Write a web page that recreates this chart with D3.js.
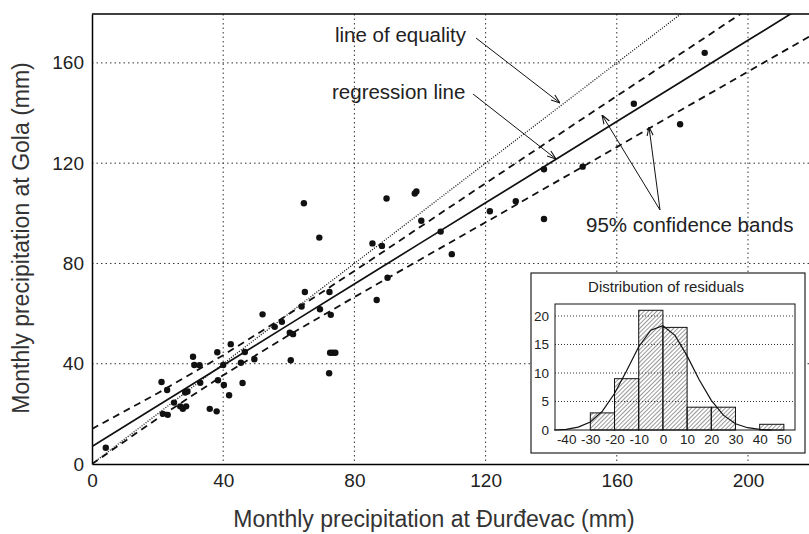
<!DOCTYPE html>
<html><head><meta charset="utf-8">
<script src="https://cdn.jsdelivr.net/npm/d3@7"></script>
<style>
body{margin:0;background:#fff;font-family:"Liberation Sans",Arial,sans-serif;}
</style></head><body><div id="chart"></div>
<script>
// scatter: Đurđevac (x) vs Gola (y), mm
const obsX = [4.2,21.2,22.9,21.6,23.1,25,26.9,27.7,28.7,28.4,29.1,30.8,31.2,32.8,33,35.9,38,38.2,38.4,40,40.2,41.8,42.3,45.4,45.9,46.6,49.5,52,55.7,57.9,60.6,60.3,61.3,63.9,64.6,64.9,69.3,69.5,72.4,72.8,72.3,72.6,73.4,74.2,85.5,86.8,88.4,89.8,90.1,98.4,98.9,100.4,106.3,109.7,121.3,129.2,137.8,137.8,149.6,165.2,179.3,186.8];
const obsY = [6.5,32.7,29.5,20,19.6,24.5,23,22,23,28.5,28.9,42.8,39.5,39.4,32.4,22,21,44.6,33.4,39.5,31.5,27.4,47.8,40.4,32.3,44.7,41.8,59.7,54.7,56.7,41.4,52.4,51.8,62.8,104,68.6,90.3,61.7,68.6,59.5,36.2,44.4,44.4,44.4,88,65.4,87,105.9,74.3,107.9,108.7,97,92.7,83.7,100.8,104.8,117.6,97.7,118.6,143.7,135.5,164];
// regression line and its 95% confidence bands
const lineX = [0,20,40,60,80,100,120,140,160,180,200,220];
const regY = [7,23.2,39.4,55.6,71.8,88,104.2,120.4,136.6,152.8,169,185.2];
const upperY = [14,28.2,43.4,59.8,77,94.5,112,129.4,146.8,164.1,181.5,198.9];
const lowerY = [0,18.2,35.4,51.4,66.6,81.5,96.4,111.4,126.4,141.5,156.5,171.5];
const equalX = [0,220], equalY = [0,220];
const xTicks = [0,40,80,120,160,200], yTicks = [0,40,80,120,160];
// inset: histogram of residuals
const binStart = [-40,-30,-20,-10,0,10,20,30,40];
const binCount = [0,3,9,21,18,4,4,0,1];
const fitX = [-45,-40,-35,-30,-25,-20,-15,-10,-5,0,5,10,15,20,25,30,35,40,45];
const fitY = [0,0.1,0.5,1.4,3.3,6.4,10.4,14.6,17.5,18.3,16.6,13,8.8,5.2,2.6,1.1,0.4,0.1,0];
const histXTicks = [-40,-30,-20,-10,0,10,20,30,40,50], histYTicks = [0,5,10,15,20];

const W = 809, H = 534;
const svg = d3.select("#chart").append("svg").attr("width", W).attr("height", H);
const L = 92, R = 809, T = 14, B = 464;
const x = d3.scaleLinear().domain([0, 218.6]).range([L, R]);
const y = d3.scaleLinear().domain([0, 179.5]).range([B, T]);
const fmt = d => String(d);

// grid
svg.append("g").selectAll("line").data(xTicks.slice(1)).join("line")
  .attr("x1", d => x(d)).attr("x2", d => x(d)).attr("y1", T).attr("y2", B)
  .attr("stroke", "#333").attr("stroke-width", 1).attr("stroke-dasharray", "1.5,3");
svg.append("g").selectAll("line").data(yTicks.slice(1)).join("line")
  .attr("x1", L).attr("x2", R).attr("y1", d => y(d)).attr("y2", d => y(d))
  .attr("stroke", "#333").attr("stroke-width", 1).attr("stroke-dasharray", "1.5,3");

// axes
svg.append("g").attr("transform", `translate(0,${B})`)
  .call(d3.axisBottom(x).tickValues(xTicks).tickFormat(fmt).tickSize(0).tickPadding(10))
  .call(g => g.select(".domain").attr("stroke-width", 1.5))
  .selectAll("text").attr("font-size", 19).attr("fill", "#222").attr("font-family", "Liberation Sans");
svg.append("g").attr("transform", `translate(${L},0)`)
  .call(d3.axisLeft(y).tickValues(yTicks).tickFormat(fmt).tickSize(0).tickPadding(8))
  .call(g => g.select(".domain").attr("stroke-width", 1.5))
  .selectAll("text").attr("font-size", 19).attr("fill", "#222").attr("font-family", "Liberation Sans");
svg.append("line").attr("x1", L).attr("x2", R).attr("y1", T).attr("y2", T).attr("stroke", "#000").attr("stroke-width", 1.5);

svg.append("text").attr("x", 434).attr("y", 527).attr("text-anchor", "middle")
  .attr("font-size", 23).attr("fill", "#333").text("Monthly precipitation at Đurđevac (mm)");
svg.append("text").attr("transform", "translate(29,238) rotate(-90)").attr("text-anchor", "middle")
  .attr("font-size", 23).attr("fill", "#333").text("Monthly precipitation at Gola (mm)");

svg.append("clipPath").attr("id", "pc").append("rect")
  .attr("x", L).attr("y", T).attr("width", R - L).attr("height", B - T);
const plot = svg.append("g").attr("clip-path", "url(#pc)");
const line = d3.line();
const mk = (xs, ys) => line(xs.map((v, i) => [x(v), y(ys[i])]));

plot.append("path").attr("d", mk(equalX, equalY)).attr("fill", "none")
  .attr("stroke", "#111").attr("stroke-width", 1.3).attr("stroke-dasharray", "1,1.5");
plot.append("path").attr("d", mk(lineX, regY)).attr("fill", "none").attr("stroke", "#111").attr("stroke-width", 1.7);
[upperY, lowerY].forEach(ys => plot.append("path").attr("d", mk(lineX, ys)).attr("fill", "none")
  .attr("stroke", "#111").attr("stroke-width", 1.8).attr("stroke-dasharray", "7,5"));

plot.append("g").selectAll("circle").data(obsX).join("circle")
  .attr("cx", d => x(d)).attr("cy", (d, i) => y(obsY[i])).attr("r", 3.2).attr("fill", "#111");

// annotations
svg.append("defs").append("marker").attr("id", "ah").attr("viewBox", "0 0 10 10")
  .attr("refX", 10).attr("refY", 5).attr("markerWidth", 9).attr("markerHeight", 9).attr("orient", "auto")
  .append("path").attr("d", "M0,1.5L10,5L0,8.5").attr("fill", "none").attr("stroke", "#111").attr("stroke-width", 1.2);
const notes = [
  {t: "line of equality", tx: 335, ty: 42, a: [[476, 38, 560, 103]]},
  {t: "regression line", tx: 332, ty: 99, a: [[473, 94, 556, 159]]},
  {t: "95% confidence bands", tx: 586, ty: 232, a: [[660, 210, 602, 115], [660, 210, 649, 127]]}
];
notes.forEach(n => {
  svg.append("text").attr("x", n.tx).attr("y", n.ty).attr("font-size", 20.5).attr("fill", "#222").text(n.t);
  n.a.forEach(a => svg.append("line").attr("x1", a[0]).attr("y1", a[1]).attr("x2", a[2]).attr("y2", a[3])
    .attr("stroke", "#111").attr("stroke-width", 1).attr("marker-end", "url(#ah)"));
});

// inset histogram
const ins = svg.append("g");
ins.append("rect").attr("x", 531).attr("y", 273).attr("width", 274).attr("height", 180)
  .attr("fill", "#fff").attr("stroke", "#222").attr("stroke-width", 1.2);
ins.append("text").attr("x", 666).attr("y", 292).attr("text-anchor", "middle").attr("font-size", 15).attr("fill", "#222")
  .text("Distribution of residuals");
const hx = d3.scaleLinear().domain([-44.6, 54.6]).range([555, 795]);
const hy = d3.scaleLinear().domain([0, 22.1]).range([430, 304]);
const pat = svg.select("defs").append("pattern").attr("id", "hatch").attr("patternUnits", "userSpaceOnUse")
  .attr("width", 3).attr("height", 3).attr("patternTransform", "rotate(45)");
pat.append("line").attr("x1", 0).attr("y1", 0).attr("x2", 0).attr("y2", 3).attr("stroke", "#333").attr("stroke-width", 1);
ins.append("g").selectAll("line").data(histYTicks.slice(1)).join("line")
  .attr("x1", 555).attr("x2", 795).attr("y1", d => hy(d)).attr("y2", d => hy(d))
  .attr("stroke", "#333").attr("stroke-dasharray", "1,2");
ins.append("g").selectAll("rect").data(binStart.filter((d, i) => binCount[i] > 0)).join("rect")
  .attr("x", d => hx(d)).attr("width", hx(10) - hx(0))
  .attr("y", d => hy(binCount[binStart.indexOf(d)])).attr("height", d => hy(0) - hy(binCount[binStart.indexOf(d)]))
  .attr("fill", "url(#hatch)").attr("stroke", "#111").attr("stroke-width", 1);
ins.append("path").attr("d", line(fitX.map((v, i) => [hx(v), hy(fitY[i])]))).attr("fill", "none")
  .attr("stroke", "#111").attr("stroke-width", 1.2);
ins.append("rect").attr("x", 555).attr("y", 304).attr("width", 240).attr("height", 126)
  .attr("fill", "none").attr("stroke", "#111").attr("stroke-width", 1);
ins.append("g").attr("transform", "translate(0,430)")
  .call(d3.axisBottom(hx).tickValues(histXTicks).tickFormat(fmt).tickSize(0).tickPadding(4))
  .call(g => g.select(".domain").remove())
  .selectAll("text").attr("font-size", 13.5).attr("fill", "#222").attr("font-family", "Liberation Sans");
ins.append("g").attr("transform", "translate(555,0)")
  .call(d3.axisLeft(hy).tickValues(histYTicks).tickFormat(fmt).tickSize(0).tickPadding(6))
  .call(g => g.select(".domain").remove())
  .selectAll("text").attr("font-size", 13.5).attr("fill", "#222").attr("font-family", "Liberation Sans");
</script></body></html>
